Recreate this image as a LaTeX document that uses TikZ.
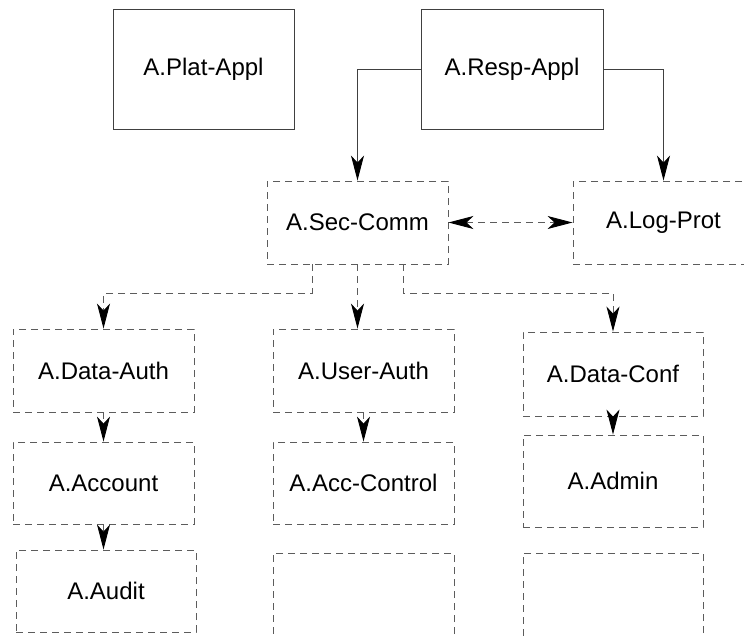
\documentclass[tikz,border=0pt]{standalone}
\usepackage{fontspec}
\setmainfont{Liberation Sans}
\usetikzlibrary{arrows.meta}
\definecolor{solidline}{gray}{0.25}
\definecolor{dashline}{gray}{0.36}
\tikzset{
  box/.style={rectangle, inner sep=0pt, font=\fontsize{24}{28}\selectfont, text=black, line width=0.9pt},
  solidbox/.style={box, draw=solidline},
  dashbox/.style={box, draw=dashline, dash pattern=on 7pt off 5pt},
  tip/.style={-{Stealth[length=25pt,width=13pt,inset=7pt,color=black]}},
  solidarrow/.style={tip, draw=solidline, line width=0.9pt},
  dasharrow/.style={tip, draw=dashline, line width=0.9pt, dash pattern=on 7pt off 5pt},
  dashboth/.style={{Stealth[length=25pt,width=13pt,inset=7pt,color=black]}-{Stealth[length=25pt,width=13pt,inset=7pt,color=black]}, draw=dashline, line width=0.9pt, dash pattern=on 7pt off 5pt},
}
\begin{document}
\begin{tikzpicture}[x=1pt,y=-1pt]
\useasboundingbox (0,0) rectangle (744,635);
\clip (0,0) rectangle (744,635);
% top row
\node[solidbox, minimum width=181pt, minimum height=120pt] (plat) at (203.5,69) {A.Plat-Appl};
\node[solidbox, minimum width=182pt, minimum height=120pt] (resp) at (512,69) {A.Resp-Appl};
% second row
\node[dashbox, minimum width=181pt, minimum height=83pt] (sec) at (357.5,222.5) {A.Sec-Comm};
\node[dashbox, minimum width=181pt, minimum height=83pt] (log) at (663.5,222.5) {A.Log-Prot};
% third row
\node[dashbox, minimum width=181pt, minimum height=83pt] (dauth) at (103.5,370.5) {A.Data-Auth};
\node[dashbox, minimum width=181pt, minimum height=83pt] (uauth) at (363.5,370.5) {A.User-Auth};
\node[dashbox, minimum width=180pt, minimum height=84pt] (dconf) at (613,374) {A.Data-Conf};
% fourth row
\node[dashbox, minimum width=181pt, minimum height=82pt] (acct) at (103.5,483) {A.Account};
\node[dashbox, minimum width=181pt, minimum height=82pt] (accc) at (363.5,483) {A.Acc-Control};
\node[dashbox, minimum width=180pt, minimum height=92pt] (admin) at (613,481) {A.Admin};
% fifth row
\node[dashbox, minimum width=180pt, minimum height=82pt] (audit) at (106,591) {A.Audit};
\node[dashbox, minimum width=181pt, minimum height=92pt] (empa) at (363.5,599) {};
\node[dashbox, minimum width=180pt, minimum height=92pt] (empb) at (613,599) {};
% connectors
\draw[solidarrow] (resp.west) -| (sec.north);
\draw[solidarrow] (resp.east) -| (log.north);
\draw[dashboth] (sec.east) -- (log.west);
\draw[dasharrow] ([xshift=-45.5pt]sec.south) -- ++(0,-29pt) -| (dauth.north);
\draw[dasharrow] (sec.south) -- (sec.south |- uauth.north);
\draw[dasharrow] ([xshift=45.5pt]sec.south) -- ++(0,-29pt) -| (dconf.north);
\draw[dasharrow] (dauth.south) -- (acct.north);
\draw[dasharrow] (acct.south) -- (acct.south |- audit.north);
\draw[dasharrow] (uauth.south) -- (accc.north);
\draw[dasharrow] (dconf.south) -- (admin.north);
\end{tikzpicture}
\end{document}
